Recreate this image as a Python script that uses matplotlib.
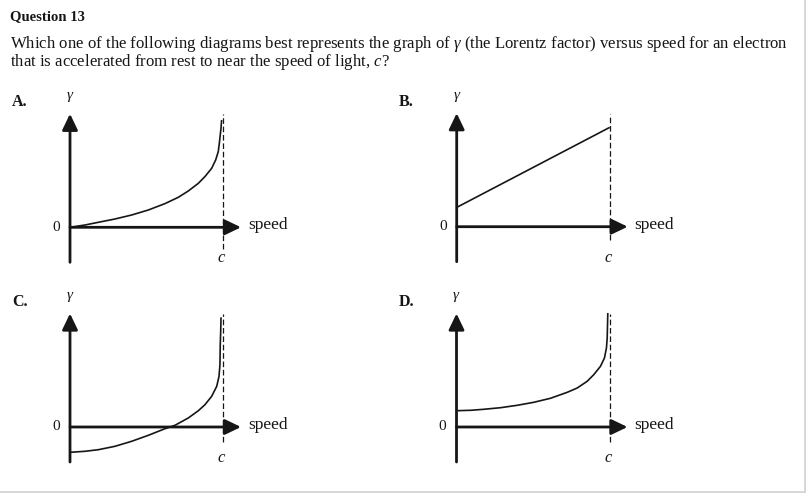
import matplotlib
matplotlib.use("Agg")
import matplotlib.pyplot as plt

W, H = 806, 493
C_PX = 153.0          # pixels from the gamma axis to the dashed line at c

title = "Question 13"
line1 = "Which one of the following diagrams best represents the graph of $\\mathit{\\gamma}$ (the Lorentz factor) versus speed for an electron"
line2 = "that is accelerated from rest to near the speed of light, $\\mathit{c}$?"
labels = ["A.", "B.", "C.", "D."]

# speed as a fraction of c, gamma in arbitrary units
speed_A = [0, .098, .185, .294, .403, .512, .621, .708, .773, .839, .882, .926,
           .952, .969, .976, .982, .987, .991]
gamma_A = [0, 2.3, 5, 8.3, 12.3, 17.3, 23.7, 30, 36.3, 44, 50.7, 59, 67.3, 75.7,
           84, 92.3, 99, 107.3]

speed_B = [0, 1.0]
gamma_B = [19.3, 99.3]

speed_C = [0, .098, .185, .294, .403, .512, .621, .686, .773, .839, .882, .926,
           .959, .974, .980, .982, .985, .987]
gamma_C = [-25.3, -24.3, -22.7, -19.3, -14.3, -8.3, -1.7, 1.7, 9, 16.3, 22.3,
           30.7, 40.7, 50.7, 62.3, 82.3, 95.7, 109.7]

speed_D = [0, .092, .178, .288, .397, .505, .614, .724, .789, .854, .897, .941,
           .967, .980, .985, .987, .989]
gamma_D = [16.3, 16.7, 17.7, 19.3, 21.7, 24.7, 28.7, 34.7, 39, 45.7, 52.3, 60.7,
           69, 79, 89, 102.3, 114]

curves = [(speed_A, gamma_A), (speed_B, gamma_B), (speed_C, gamma_C), (speed_D, gamma_D)]
origins = [(70, 227.3), (456.7, 226.7), (70, 427), (456.5, 427)]
dash_low = [-22, -13, -15, -15]

ink = "#161616"
serif = ["Liberation Serif", "DejaVu Serif"]
plt.rcParams["font.family"] = serif
plt.rcParams["mathtext.fontset"] = "custom"
plt.rcParams["mathtext.it"] = "Liberation Serif:italic"
plt.rcParams["mathtext.rm"] = "Liberation Serif"

fig = plt.figure(figsize=(W / 100, H / 100), dpi=100)
bg = fig.add_axes([0, 0, 1, 1])
bg.set_xlim(0, W)
bg.set_ylim(H, 0)
bg.axis("off")

# frame lines at right and bottom
bg.plot([W - 1.5, W - 1.5], [0, H], color="#d6d6d6", lw=2)
bg.plot([0, W], [H - 1.5, H - 1.5], color="#d6d6d6", lw=2)

bg.text(10, 17, title, fontsize=10.6, fontweight="bold", color=ink, va="center", ha="left")
bg.text(10, 44, line1, fontsize=12.1, color=ink, va="center", ha="left")
bg.text(10, 62, line2, fontsize=12.1, color=ink, va="center", ha="left")

# panel box relative to origin, in pixels
left, right, below, above = 62, 236, 46, 136
for lab, (sp, gm), (ox, oy), dl in zip(labels, curves, origins, dash_low):
    ax = fig.add_axes([(ox - left) / W, (H - oy - below) / H,
                       (left + right) / W, (below + above) / H])
    ax.set_xlim(-left / C_PX, right / C_PX)
    ax.set_ylim(-below, above)
    ax.axis("off")

    ap = dict(arrowstyle="-|>,head_length=0.75,head_width=0.36", lw=2, color=ink,
              shrinkA=0, shrinkB=0, mutation_scale=13)
    ax.annotate("", xy=(0, 113.5), xytext=(0, -35), arrowprops=ap)
    ax.annotate("", xy=(171 / C_PX, 0), xytext=(0, 0), arrowprops=ap)
    ax.plot([1, 1], [dl, 113], color=ink, lw=0.9, ls=(0, (4.5, 2.2)))
    ax.plot(sp, gm, color=ink, lw=1.2, solid_capstyle="butt")

    ax.text(-14 / C_PX, 0, "0", fontsize=11, color=ink, ha="center", va="center")
    ax.text(178 / C_PX, 2, "speed", fontsize=12.5, color=ink, ha="left", va="center")
    ax.text(152 / C_PX, -31, "$c$", fontsize=12, color=ink, ha="center", va="center")
    ax.text(0, 130, "$\\gamma$", fontsize=11, color=ink, ha="center", va="center")
    ax.text(-58 / C_PX, 125, lab, fontsize=11.5, fontweight="bold", color=ink,
            ha="left", va="center")

fig.savefig("out.png", dpi=100)
